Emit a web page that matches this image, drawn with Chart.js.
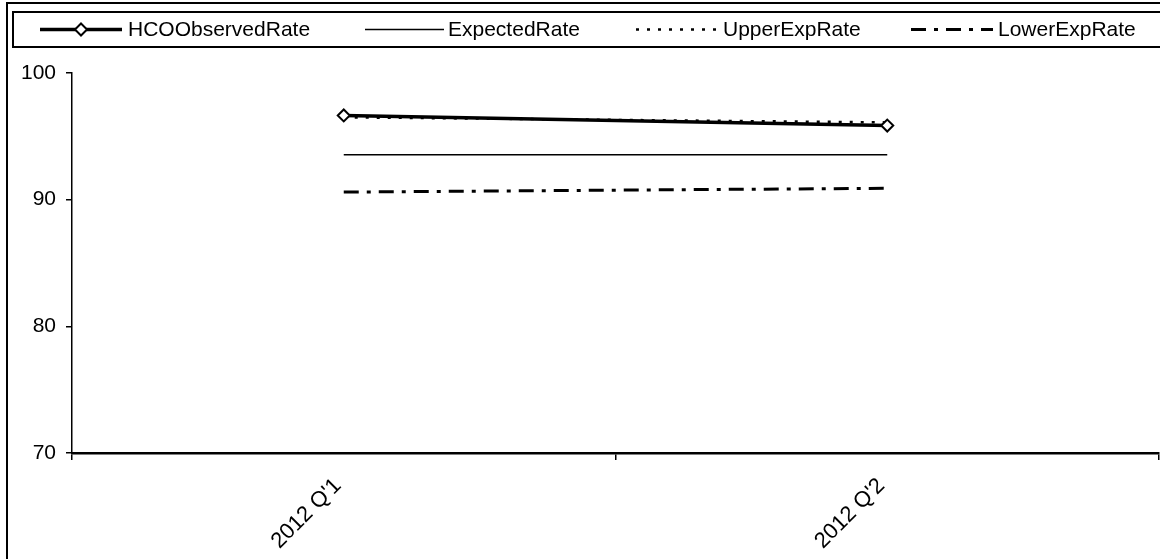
<!DOCTYPE html>
<html>
<head>
<meta charset="utf-8">
<script src="https://cdn.jsdelivr.net/npm/chart.js@4/dist/chart.umd.min.js"></script>
<style>
  html, body { margin: 0; padding: 0; background: #fff; }
  #wrap { width: 1160px; height: 559px; }
</style>
</head>
<body>
<div id="wrap"><canvas id="c" width="1160" height="559"></canvas></div>
<script>
const categories = ["2012 Q'1", "2012 Q'2"];
const seriesNames = ["HCOObservedRate", "ExpectedRate", "UpperExpRate", "LowerExpRate"];
const hcoObserved = [96.65, 95.85];
const expectedRate = [93.55, 93.55];
const upperExpRate = [96.5, 96.1];
const lowerExpRate = [90.6, 90.9];
const yMin = 70, yMax = 100, yStep = 10;

const FONT = "'Liberation Sans', Arial, sans-serif";
const FONT_SIZE = 21;

// legend positions (x of line start, line end, text start)
const legendSlots = [
  { x0: 40, x1: 122, tx: 128 },
  { x0: 365, x1: 444, tx: 448 },
  { x0: 636, x1: 717, tx: 723 },
  { x0: 911, x1: 993, tx: 998 }
];

const framePlugin = {
  id: 'frameLegend',
  afterDraw(chart) {
    const ctx = chart.ctx;
    ctx.save();
    ctx.strokeStyle = '#000';
    ctx.lineWidth = 2;
    ctx.setLineDash([]);
    ctx.strokeRect(7, 3, 1200, 600);
    ctx.strokeRect(13, 12, 1200, 35);
    const ly = 29.5;
    chart.data.datasets.forEach((ds, i) => {
      const s = legendSlots[i];
      ctx.save();
      ctx.strokeStyle = ds.borderColor;
      ctx.lineWidth = ds.borderWidth;
      ctx.setLineDash(ds.borderDash || []);
      ctx.beginPath();
      ctx.moveTo(s.x0, ly);
      ctx.lineTo(s.x1, ly);
      ctx.stroke();
      ctx.setLineDash([]);
      if (ds.pointRadius > 0) {
        const cx = (s.x0 + s.x1) / 2, r = ds.pointRadius;
        ctx.beginPath();
        ctx.moveTo(cx, ly - r);
        ctx.lineTo(cx + r, ly);
        ctx.lineTo(cx, ly + r);
        ctx.lineTo(cx - r, ly);
        ctx.closePath();
        ctx.fillStyle = ds.pointBackgroundColor;
        ctx.fill();
        ctx.lineWidth = ds.pointBorderWidth;
        ctx.strokeStyle = ds.pointBorderColor;
        ctx.stroke();
      }
      ctx.fillStyle = '#000';
      ctx.font = FONT_SIZE + 'px ' + FONT;
      ctx.textBaseline = 'middle';
      ctx.textAlign = 'left';
      ctx.fillText(ds.label, s.tx, ly + 1);
      ctx.restore();
    });
    ctx.restore();
  }
};

const chart = new Chart(document.getElementById('c'), {
  type: 'line',
  data: {
    labels: categories,
    datasets: [
      {
        label: seriesNames[0], data: hcoObserved,
        borderColor: '#000', borderWidth: 3.5, tension: 0,
        pointStyle: 'rectRot', pointRadius: 6, pointBackgroundColor: '#fff',
        pointBorderColor: '#000', pointBorderWidth: 2
      },
      {
        label: seriesNames[1], data: expectedRate,
        borderColor: '#000', borderWidth: 1.5, pointRadius: 0, tension: 0
      },
      {
        label: seriesNames[2], data: upperExpRate,
        borderColor: '#000', borderWidth: 2.5, borderDash: [3, 8], pointRadius: 0, tension: 0
      },
      {
        label: seriesNames[3], data: lowerExpRate,
        borderColor: '#000', borderWidth: 3, borderDash: [15, 8, 4, 8], pointRadius: 0, tension: 0
      }
    ]
  },
  options: {
    responsive: false,
    animation: false,
    layout: { autoPadding: false, padding: { top: 73, left: 0, right: 1, bottom: 0 } },
    plugins: { legend: { display: false }, tooltip: { enabled: false } },
    scales: {
      x: {
        offset: true,
        grid: { offset: true, drawOnChartArea: false, drawTicks: true, tickLength: 7, color: '#000', lineWidth: 1.5 },
        border: { display: true, color: '#000', width: 2.5 },
        ticks: {
          autoSkip: false, maxRotation: 45, minRotation: 45, padding: 13, labelOffset: -6,
          color: '#000', font: { family: FONT, size: 22 }
        },
        afterFit(scale) { scale.height = 106; scale.paddingLeft = 0; scale.paddingRight = 0; }
      },
      y: {
        min: yMin, max: yMax,
        grid: { drawOnChartArea: false, drawTicks: true, tickLength: 6, color: '#000', lineWidth: 1.5 },
        border: { display: true, color: '#000', width: 1.5 },
        ticks: {
          stepSize: yStep, padding: 10, color: '#000',
          font: { family: FONT, size: FONT_SIZE }
        },
        afterFit(scale) { scale.width = 72; }
      }
    }
  },
  plugins: [framePlugin]
});
</script>
</body>
</html>
